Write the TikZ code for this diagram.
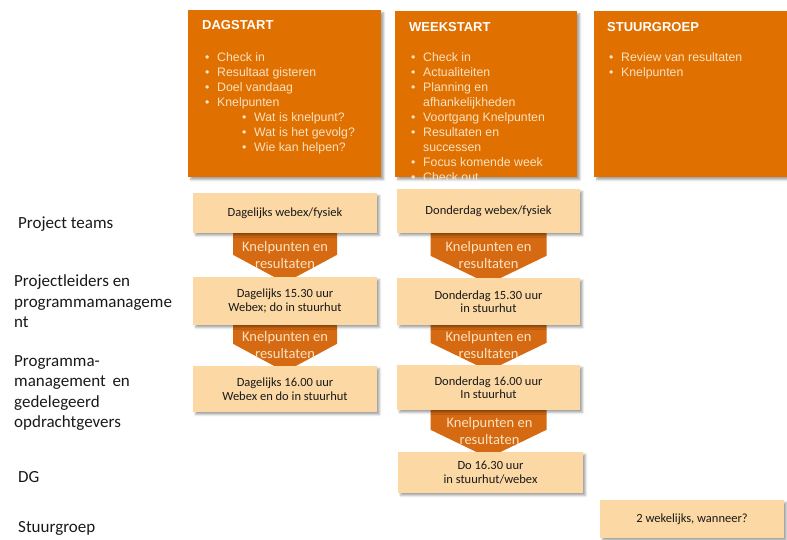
\documentclass[tikz,border=0pt]{standalone}
\usepackage{fontspec}
\setmainfont{Carlito}
\newfontfamily\arialfont{Liberation Sans}
\usetikzlibrary{calc,positioning,shadows.blur}

\definecolor{oranje}{RGB}{224,112,0}
\definecolor{perzik}{RGB}{252,216,164}
\definecolor{pijlkleur}{RGB}{214,106,18}
\definecolor{room}{RGB}{250,226,194}
\definecolor{tekst}{RGB}{25,25,25}

\pgfdeclarelayer{achter}
\pgfsetlayers{achter,main}

\newcommand{\blt}{\makebox[12pt][l]{\textbullet}}

% chevron van box #1 naar box #2, halve breedte #3, naam #4
\newcommand{\knelpijl}[4]{%
  \coordinate (#4punt) at ($(#1.south |- #2.north)+(0,6)$);
  \begin{pgfonlayer}{achter}
    \fill[pijlvorm] ($(#1.south)+(-#3,0)$) -- ($(#1.south)+(#3,0)$) -- ($(#4punt)+(#3,-28)$)
      -- (#4punt) -- ($(#4punt)+(-#3,-28)$) -- cycle;
  \end{pgfonlayer}
  \node[pijltekst] (#4) at ($(#1.south)!0.5!(#2.north)$) {Knelpunten en\\resultaten};
}

\begin{document}
\begin{tikzpicture}[x=1pt,y=-1pt,
  schaduw/.style={blur shadow={shadow xshift=2.5pt, shadow yshift=-2.5pt, shadow blur radius=2pt, shadow opacity=35}},
  kop/.style={fill=oranje, schaduw, anchor=north west, inner sep=0pt},
  kopje/.style={anchor=base west, inner sep=0pt, text=white, font=\arialfont\bfseries\fontsize{13}{15}\selectfont},
  regel/.style={anchor=base west, inner sep=0pt, text=room, font=\arialfont\fontsize{12.3}{15}\selectfont},
  overleg/.style={fill=perzik, schaduw, inner sep=0pt, align=center, text=tekst, font=\fontsize{12.5}{13.5}\selectfont},
  pijlvorm/.style={fill=pijlkleur},
  pijltekst/.style={align=center, inner sep=0pt, text=room, font=\fontsize{14.5}{17}\selectfont},
  rol/.style={anchor=west, align=left, inner sep=0pt, text=tekst, font=\fontsize{17}{20.5}\selectfont}]

  \useasboundingbox (0,0) rectangle (787,539);

  % kolommen bovenaan
  \node[kop, minimum width=193pt, minimum height=167pt] (dag) at (188,10) {};
  \node[kop, minimum width=182pt, minimum height=166pt] (week) at (395,11) {};
  \node[kop, minimum width=195pt, minimum height=166pt] (stuur) at (594,11) {};

  \node[kopje] (dagkop) at (202,29.5) {DAGSTART};
  \node[kopje] (weekkop) at (409,31) {WEEKSTART};
  \node[kopje] (stuurkop) at (607,31) {STUURGROEP};

  \foreach \t [count=\i] in {\blt Check in, \blt Resultaat gisteren, \blt Doel vandaag, \blt Knelpunten,
      \hspace*{37pt}\blt Wat is knelpunt?, \hspace*{37pt}\blt Wat is het gevolg?, \hspace*{37pt}\blt Wie kan helpen?}
    \node[regel] (dagr\i) at (205,46+15*\i) {\t};

  \foreach \t [count=\i] in {\blt Check in, \blt Actualiteiten, \blt Planning en, \hspace*{12pt}afhankelijkheden,
      \blt Voortgang Knelpunten, \blt Resultaten en, \hspace*{12pt}successen, \blt Focus komende week, \blt Check out}
    \node[regel] (weekr\i) at (411,46+15.1*\i) {\t};

  \foreach \t [count=\i] in {\blt Review van resultaten, \blt Knelpunten}
    \node[regel] (stuurr\i) at (609,46+15*\i) {\t};

  % overleggen
  \node[overleg, minimum width=184pt, minimum height=40pt] (d1) at (285,213) {Dagelijks webex/fysiek};
  \node[overleg, minimum width=184pt, minimum height=48pt] (d2) at (285,301) {Dagelijks 15.30 uur\\Webex; do in stuurhut};
  \node[overleg, minimum width=184pt, minimum height=46pt] (d3) at (285,389) {Dagelijks 16.00 uur\\Webex en do in stuurhut};

  \node[overleg, minimum width=183pt, minimum height=44pt] (w1) at (488.5,211) {Donderdag webex/fysiek};
  \node[overleg, minimum width=183pt, minimum height=47pt] (w2) at (488.5,301.5) {Donderdag 15.30 uur\\in stuurhut};
  \node[overleg, minimum width=183pt, minimum height=45pt] (w3) at (488.5,387.5) {Donderdag 16.00 uur\\In stuurhut};
  \node[overleg, minimum width=185pt, minimum height=41pt] (w4) at (490.5,472.5) {Do 16.30 uur\\in stuurhut/webex};

  \node[overleg, minimum width=184pt, minimum height=38pt] (s1) at (692,519) {2 wekelijks, wanneer?};

  % knelpunten omhoog
  \knelpijl{d1}{d2}{52}{kd1}
  \knelpijl{d2}{d3}{52}{kd2}
  \knelpijl{w1}{w2}{58}{kw1}
  \knelpijl{w2}{w3}{58}{kw2}
  \knelpijl{w3}{w4}{58}{kw3}

  % rollen
  \node[rol] (teams) at (18,224) {Project teams};
  \node[rol] (leiders) at (14,301.5) {Projectleiders en\\programmamanageme\\nt};
  \node[rol] (progman) at (14,393) {Programma-\\management\, en\\gedelegeerd\\opdrachtgevers};
  \node[rol] (dg) at (18,477) {DG};
  \node[rol] (sg) at (18,528) {Stuurgroep};
\end{tikzpicture}
\end{document}
